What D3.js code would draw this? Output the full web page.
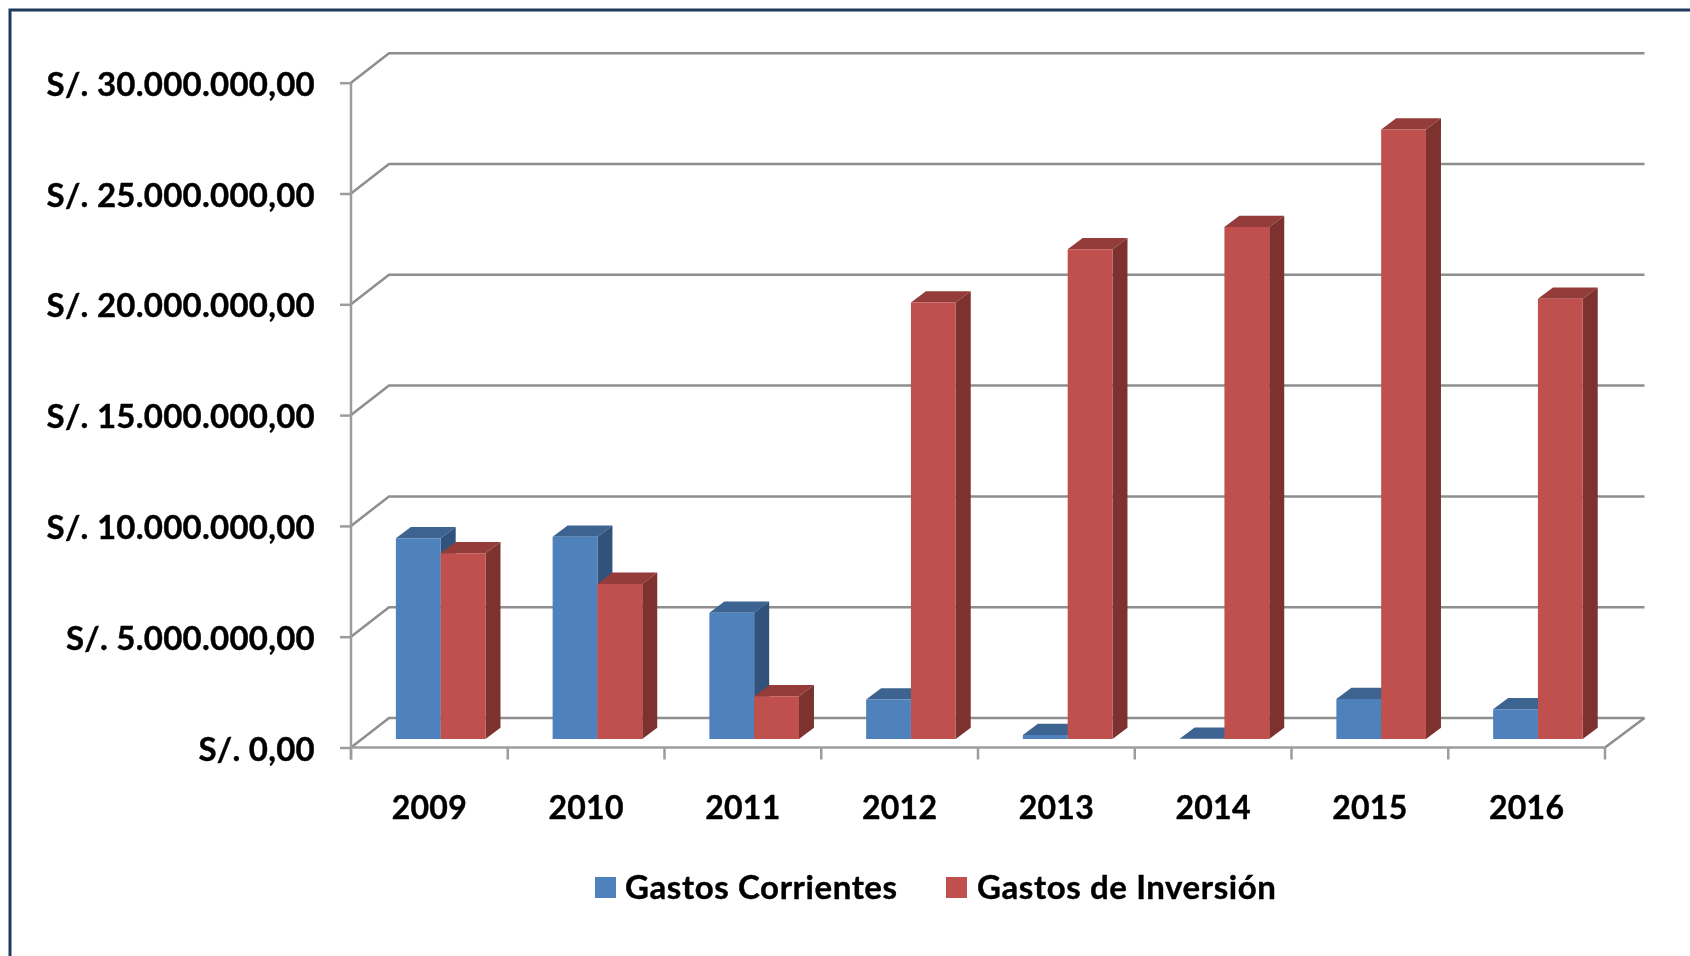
<!DOCTYPE html>
<html>
<head>
<meta charset="utf-8">
<script src="https://cdn.jsdelivr.net/npm/d3@7"></script>
<style>
  html, body { margin: 0; padding: 0; background: #fff; }
  svg { display: block; filter: blur(0.45px); }
  text { font-family: Lato, "Open Sans", sans-serif; font-weight: 700; fill: #000; stroke: #000; stroke-width: 0.4px; }
  .domain { display: none; }
</style>
</head>
<body>
<svg id="chart" width="1690" height="956"></svg>
<script>
var years = ['2009', '2010', '2011', '2012', '2013', '2014', '2015', '2016'];
var gastosCorrientes = [9060000, 9130000, 5700000, 1780000, 180000, 10000, 1800000, 1340000];
var gastosInversion = [8380000, 7000000, 1930000, 19700000, 22100000, 23100000, 27500000, 19870000];
var yTicks = [0, 5000000, 10000000, 15000000, 20000000, 25000000, 30000000];
var seriesNames = ['Gastos Corrientes', 'Gastos de Inversión'];

var blue = { front: '#4f81bd', top: '#3d6491', side: '#31527a' };
var red = { front: '#c0504d', top: '#943c39', side: '#7d3230' };
var gridColor = '#8e8e8e';
var axisColor = '#9c9c9c';

var svg = d3.select('#chart');

var x = d3.scaleBand().domain(years).range([351, 1605]);
var y = d3.scaleLinear().domain([0, 30000000]).range([747.5, 82.7]);

// wall depth, and how far the bars stand in from the front of the floor
var depthX = 38;
var depthY = 29.5;
var barInsetX = 11.3;
var barInsetY = 8.5;
var barDepthX = 15;
var barDepthY = 11.3;
var barWidth = 44.8;

var money = d3.formatLocale({
  decimal: ',',
  thousands: '.',
  grouping: [3],
  currency: ['', '']
}).format(',.2f');

function polygon(layer, points, fill) {
  layer.append('polygon')
    .attr('points', points.map(function toPair(p) { return p.join(','); }).join(' '))
    .attr('fill', fill);
}

function drawFrame() {
  svg.append('path')
    .attr('d', 'M10,960V10H1695')
    .attr('fill', 'none')
    .attr('stroke', '#1f3a5c')
    .attr('stroke-width', 3);
}

function drawWalls() {
  var walls = svg.append('g').attr('class', 'walls');

  yTicks.forEach(function addGridLine(t) {
    walls.append('path')
      .attr('d', 'M' + x.range()[0] + ',' + y(t) +
        'L' + (x.range()[0] + depthX) + ',' + (y(t) - depthY) +
        'H' + (x.range()[1] + depthX + 1.5))
      .attr('fill', 'none')
      .attr('stroke', gridColor)
      .attr('stroke-width', 2.5);
  });

  walls.append('line')
    .attr('x1', x.range()[1]).attr('y1', y(0))
    .attr('x2', x.range()[1] + depthX + 1.5).attr('y2', y(0) - depthY)
    .attr('stroke', gridColor)
    .attr('stroke-width', 2.5);
}

function drawAxes() {
  var yAxis = d3.axisLeft(y)
    .tickValues(yTicks)
    .tickSize(11)
    .tickPadding(25)
    .tickFormat(function formatTick(d) { return 'S/. ' + money(d); });

  var yGroup = svg.append('g')
    .attr('transform', 'translate(' + x.range()[0] + ',0)')
    .call(yAxis);
  yGroup.selectAll('line').attr('stroke', axisColor).attr('stroke-width', 2.5);
  yGroup.selectAll('text')
    .attr('font-size', 33)
    .attr('letter-spacing', 0.25)
    .attr('dy', '0.38em');

  var xAxis = d3.axisBottom(x).tickSize(0).tickPadding(59);
  var xGroup = svg.append('g')
    .attr('transform', 'translate(0,' + y(0) + ')')
    .call(xAxis);
  xGroup.selectAll('text')
    .attr('font-size', 32)
    .attr('letter-spacing', 0.25)
    .attr('dy', '0.38em');

  var axisLines = svg.append('g').attr('class', 'axis-lines');
  axisLines.append('line')
    .attr('x1', x.range()[0]).attr('y1', y(30000000))
    .attr('x2', x.range()[0]).attr('y2', y(0) + 12);
  axisLines.append('line')
    .attr('x1', x.range()[0]).attr('y1', y(0))
    .attr('x2', x.range()[1]).attr('y2', y(0));
  years.concat(['end']).forEach(function addTick(d, i) {
    var tickX = i < years.length ? x(d) : x.range()[1];
    axisLines.append('line')
      .attr('x1', tickX).attr('y1', y(0))
      .attr('x2', tickX).attr('y2', y(0) + 12);
  });
  axisLines.selectAll('line').attr('stroke', axisColor).attr('stroke-width', 2.5);
}

function drawBar(layer, left, value, colors) {
  var bottom = y(0) - barInsetY;
  var top = y(value) - barInsetY;
  var right = left + barWidth;

  polygon(layer, [[left, top], [left + barDepthX, top - barDepthY],
    [right + barDepthX, top - barDepthY], [right, top]], colors.top);
  polygon(layer, [[right, top], [right + barDepthX, top - barDepthY],
    [right + barDepthX, bottom - barDepthY], [right, bottom]], colors.side);
  polygon(layer, [[left, top], [right, top], [right, bottom], [left, bottom]], colors.front);
}

function drawBars() {
  var bars = svg.append('g').attr('class', 'bars');
  years.forEach(function drawYear(year, i) {
    var mid = x(year) + x.bandwidth() / 2 + barInsetX;
    drawBar(bars, mid - barWidth, gastosCorrientes[i], blue);
    drawBar(bars, mid, gastosInversion[i], red);
  });
}

function drawLegend() {
  var legend = svg.append('g').attr('class', 'legend');
  var entries = [
    { name: seriesNames[0], color: blue.front, swatchX: 595, textX: 625 },
    { name: seriesNames[1], color: red.front, swatchX: 946, textX: 977 }
  ];
  entries.forEach(function addEntry(e) {
    legend.append('rect')
      .attr('x', e.swatchX).attr('y', 877)
      .attr('width', 21).attr('height', 21)
      .attr('fill', e.color);
    legend.append('text')
      .attr('x', e.textX).attr('y', 899)
      .attr('font-size', 33)
      .attr('letter-spacing', 0.6)
      .text(e.name);
  });
}

drawFrame();
drawWalls();
drawAxes();
drawBars();
drawLegend();
</script>
</body>
</html>
